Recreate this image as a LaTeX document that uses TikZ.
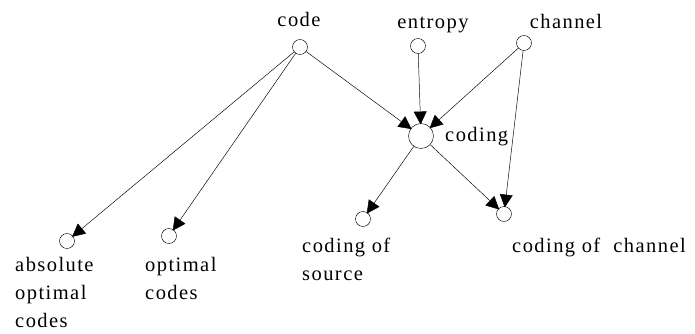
\documentclass[tikz,border=0pt]{standalone}
\usepackage{fontspec}
\setmainfont{Liberation Serif}[LetterSpace=7]
\usetikzlibrary{arrows.meta}

\tikzset{
  dot/.style={shape=circle, draw=black, inner sep=0pt, minimum size=15*0.03cm},
  bigdot/.style={dot, minimum size=25*0.03cm},
  lbl/.style={inner sep=0pt, font=\fontsize{17.5pt}{24pt}\selectfont, align=left},
  link/.style={-{Triangle[length=11pt,width=11pt]}, shorten >=-1pt},
}

\begin{document}
\begin{tikzpicture}[x=0.03cm, y=-0.03cm]
    \useasboundingbox (0,0) rectangle (695,334);

    %%   (lable)  (x, y)     {\text}
    \node[dot]    (code)    at (300, 47) {};
    \node[dot]    (entropy) at (418, 46) {};
    \node[dot]    (channel) at (524, 43) {};
    \node[bigdot] (coding)  at (421,136) {};

    \node[dot] (abs)  at ( 67,241) {};
    \node[dot] (opt)  at (169,236) {};
    \node[dot] (src)  at (363,219) {};
    \node[dot] (chan) at (504,214) {};

    \node[lbl]                   (Lcode)    at (299, 19) {code};
    \node[lbl]                   (Lentropy) at (433, 25) {entropy};
    \node[lbl]                   (Lchannel) at (566, 21) {channel};
    \node[lbl, anchor=west]      (Lcoding)  at (445,137) {coding};
    \node[lbl, anchor=north west] (Labs)    at ( 15,257) {absolute\\optimal\\codes};
    \node[lbl, anchor=north west] (Lopt)    at (145,257) {optimal\\codes};
    \node[lbl, anchor=north west] (Lsrc)    at (302,238) {coding of\\source};
    \node[lbl, anchor=north west] (Lchan)   at (512,238) {coding of~~channel};

    \path[link] (code) edge (abs);
    \path[link] (code) edge (opt);
    \path[link] (code) edge (coding);
    %
    \path[link] (entropy) edge (coding);
    \path[link] (channel) edge (coding);
    \path[link] (channel) edge (chan);

    \path[link] (coding) edge (src);
    \path[link] (coding) edge (chan);

  \end{tikzpicture}
\end{document}
